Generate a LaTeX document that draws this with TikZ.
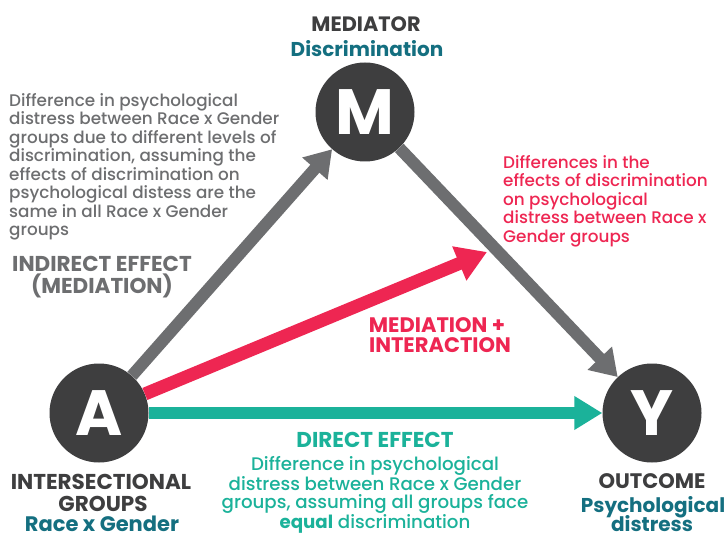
\documentclass[tikz,border=0pt]{standalone}
\usepackage{fontspec}
\setmainfont{Poppins}[UprightFont=* Medium, BoldFont=* Bold]
\usetikzlibrary{arrows.meta}
\definecolor{circ}{HTML}{3E3E3F}
\definecolor{garr}{HTML}{6D6E70}
\definecolor{gtxt}{HTML}{6D6E70}
\definecolor{htxt}{HTML}{3E3E3F}
\definecolor{redc}{HTML}{EE2652}
\definecolor{tealc}{HTML}{1BB29A}
\definecolor{dteal}{HTML}{146F80}
\begin{document}
\begin{tikzpicture}[x=1pt,y=-1pt,
  var/.style={circle, fill=circ, minimum size=99pt, inner sep=0pt, text=white,
    font=\fontsize{64}{64}\selectfont\bfseries},
  body/.style={inner sep=0pt, font=\fontsize{16.8}{18.5}\selectfont},
  tbody/.style={inner sep=0pt, font=\fontsize{18.2}{18.5}\selectfont},
  head/.style={inner sep=0pt, anchor=base, font=\fontsize{20}{22}\selectfont\bfseries},
  caps/.style={inner sep=0pt, anchor=base, font=\fontsize{21.5}{22}\selectfont\bfseries},
  garrow/.style={draw=garr, line width=12pt, -{Triangle[length=26pt,width=32pt]}},
  rarrow/.style={draw=redc, line width=13pt, -{Triangle[length=30pt,width=35pt]}},
  tarrow/.style={draw=tealc, line width=12pt, -{Triangle[length=28pt,width=32pt]}}
]
\useasboundingbox (0,0) rectangle (727,537);
\fill[white] (0,0) rectangle (727,537);
% variables
\node[var] (M) at (365,112) {M};
\node[var] (A) at (99,413) {A};
\node[var] (Y) at (652,413) {Y};
\coordinate (R) at (487,252);
% arrows
\draw[garrow] (A) -- (M);
\draw[garrow] (M) -- (Y);
\draw[rarrow] (A) -- (R);
\draw[tarrow] (A) -- (Y);
% headings
\node[caps, font=\fontsize{20.8}{22}\selectfont\bfseries, text=htxt] (mh) at (366,32) {MEDIATOR};
\node[head, text=dteal] (mt) at (367,57) {Discrimination};
\node[caps, text=gtxt] (ie1) at (102,271) {INDIRECT EFFECT};
\node[caps, text=gtxt] (ie2) at (102,293) {(MEDIATION)};
\node[caps, font=\fontsize{21}{22}\selectfont\bfseries, text=redc] (mi1) at (437,332) {MEDIATION +};
\node[caps, font=\fontsize{21}{22}\selectfont\bfseries, text=redc] (mi2) at (440,352) {INTERACTION};
\node[caps, text=tealc] (de) at (375,447) {DIRECT EFFECT};
\node[caps, text=htxt] (ig1) at (101,489) {INTERSECTIONAL};
\node[caps, text=htxt] (ig2) at (103,511) {GROUPS};
\node[head, font=\fontsize{21}{22}\selectfont\bfseries, text=dteal] (ig3) at (102,531) {Race x Gender};
\node[caps, font=\fontsize{21}{22}\selectfont\bfseries, text=htxt] (oc1) at (652,488) {OUTCOME};
\node[head, text=dteal] (oc2) at (653,512) {Psychological};
\node[head, text=dteal] (oc3) at (652,531) {distress};
% paragraphs
\node[body, text=gtxt, align=left, anchor=north west] (ind) at (9,93)
  {Difference in psychological\\distress between Race x Gender\\groups due to different levels of\\discrimination, assuming the\\effects of discrimination on\\psychological distess are the\\same in all Race x Gender\\groups};
\node[body, text=redc, align=left, anchor=north west] (intp) at (503,155)
  {Differences in the\\effects of discrimination\\on psychological\\distress between Race x\\Gender groups};
\node[tbody, text=tealc, align=center, anchor=north] (dirp) at (375,456)
  {Difference in psychological\\distress between Race x Gender\\groups, assuming all groups face\\{\bfseries equal} discrimination};
\end{tikzpicture}
\end{document}
